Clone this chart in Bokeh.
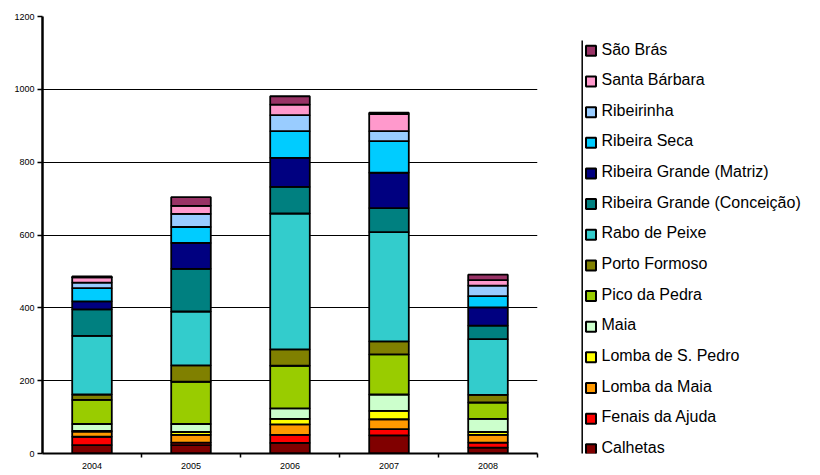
from bokeh.plotting import figure
from bokeh.models import ColumnDataSource, Range1d, FixedTicker
from bokeh.layouts import row
from bokeh.core.properties import value
from bokeh.embed import file_html
from bokeh.resources import INLINE

years = ["2004", "2005", "2006", "2007", "2008"]

legend_labels = [
    "Calhetas", "Fenais da Ajuda", "Lomba da Maia", "Lomba de S. Pedro", "Maia",
    "Pico da Pedra", "Porto Formoso", "Rabo de Peixe", "Ribeira Grande (Conceição)",
    "Ribeira Grande (Matriz)", "Ribeira Seca", "Ribeirinha", "Santa Bárbara", "São Brás",
]
colors = [
    "#800000", "#FF0000", "#FF9900", "#FFFF00", "#CCFFCC",
    "#99CC00", "#808000", "#33CCCC", "#008080",
    "#000080", "#00CCFF", "#99CCFF", "#FF99CC", "#993366",
]

calhetas = [23, 23, 29, 50, 16]
fenais_da_ajuda = [23, 7, 22, 17, 14]
lomba_da_maia = [14, 21, 29, 27, 21]
lomba_de_s_pedro = [2, 8, 15, 23, 8]
maia = [19, 22, 29, 45, 36]
pico_da_pedra = [66, 116, 117, 110, 45]
porto_formoso = [15, 45, 45, 36, 21]
rabo_de_peixe = [161, 148, 373, 300, 153]
rg_conceicao = [73, 117, 73, 66, 37]
rg_matriz = [22, 71, 80, 97, 50]
ribeira_seca = [36, 44, 73, 87, 31]
ribeirinha = [15, 36, 44, 27, 29]
santa_barbara = [15, 22, 29, 47, 15]
sao_bras = [2, 24, 23, 4, 15]

y_ticks = [0, 200, 400, 600, 800, 1000, 1200]

all_series = [calhetas, fenais_da_ajuda, lomba_da_maia, lomba_de_s_pedro, maia,
              pico_da_pedra, porto_formoso, rabo_de_peixe, rg_conceicao, rg_matriz,
              ribeira_seca, ribeirinha, santa_barbara, sao_bras]

keys = ["s%d" % i for i in range(len(all_series))]
data = {"x": [i + 0.5 for i in range(len(years))]}
for k, s in zip(keys, all_series):
    data[k] = s
source = ColumnDataSource(data)

FONT = "Liberation Sans"

p = figure(width=560, height=475, x_range=Range1d(0, len(years)), y_range=Range1d(0, 1200),
           output_backend="svg", toolbar_location=None,
           min_border_left=42, min_border_right=23, min_border_top=16, min_border_bottom=22)
p.outline_line_color = None
p.background_fill_color = "white"
p.border_fill_color = "white"

p.vbar_stack(keys, x="x", width=0.4, source=source, fill_color=colors,
             line_color="black", line_width=1.8)

p.xgrid.grid_line_color = None
p.ygrid.grid_line_color = "black"
p.ygrid.grid_line_width = 1
p.ygrid.ticker = FixedTicker(ticks=y_ticks)

p.yaxis.ticker = FixedTicker(ticks=y_ticks)
p.yaxis.axis_line_width = 2.5
p.yaxis.axis_line_color = "black"
p.yaxis.major_tick_out = 5
p.yaxis.major_tick_in = 0
p.yaxis.major_tick_line_width = 1.5
p.yaxis.minor_tick_line_color = None
p.yaxis.major_label_text_font = FONT
p.yaxis.major_label_text_font_size = "9px"
p.yaxis.major_label_text_color = "black"
p.yaxis.major_label_standoff = 3

p.xaxis.ticker = FixedTicker(ticks=[i + 0.5 for i in range(len(years))],
                             minor_ticks=[i + 1 for i in range(len(years))])
p.xaxis.major_label_overrides = {i + 0.5: y for i, y in enumerate(years)}
p.xaxis.axis_line_width = 2
p.xaxis.axis_line_color = "black"
p.xaxis.major_tick_line_color = None
p.xaxis.major_tick_out = 0
p.xaxis.major_tick_in = 0
p.xaxis.minor_tick_out = 4
p.xaxis.minor_tick_in = 0
p.xaxis.minor_tick_line_width = 1.5
p.xaxis.major_label_text_font = FONT
p.xaxis.major_label_text_font_size = "9px"
p.xaxis.major_label_text_color = "black"
p.xaxis.major_label_standoff = 5

# legend panel (top entry = last series); its frame is aligned with p's frame (y 16..453)
n = len(legend_labels)
pitch = 30.65
first = 48.5
frame_top, frame_bottom = 16, 453
q = figure(width=260, height=475, x_range=Range1d(0, 260),
           y_range=Range1d((frame_bottom - first) / pitch, (frame_top - first) / pitch),
           output_backend="svg", toolbar_location=None,
           min_border=0, min_border_left=0, min_border_right=0,
           min_border_top=16, min_border_bottom=22)
q.axis.visible = False
q.grid.visible = False
q.outline_line_color = None
q.background_fill_color = "white"
q.border_fill_color = "white"

rows = list(range(n))
leg = ColumnDataSource(dict(
    row=rows,
    sw_y=[r + 0.06 for r in rows],
    label=list(reversed(legend_labels)),
    color=list(reversed(colors)),
    sx=[30.5] * n,
    tx=[41.0] * n,
))
q.segment(x0=[21.7], y0=[(40 - first) / pitch], x1=[21.7], y1=[(460 - first) / pitch],
          line_color="black", line_width=1.5)
q.rect(x="sx", y="sw_y", width=10, height=10 / pitch, source=leg,
       fill_color="color", line_color="black", line_width=2)
q.text(x="tx", y="row", text="label", source=leg, text_font=value(FONT),
       text_font_size="16px", text_baseline="middle", text_align="left", text_color="black")

layout = row(p, q)
open("out.html", "w").write(file_html(layout, INLINE))
